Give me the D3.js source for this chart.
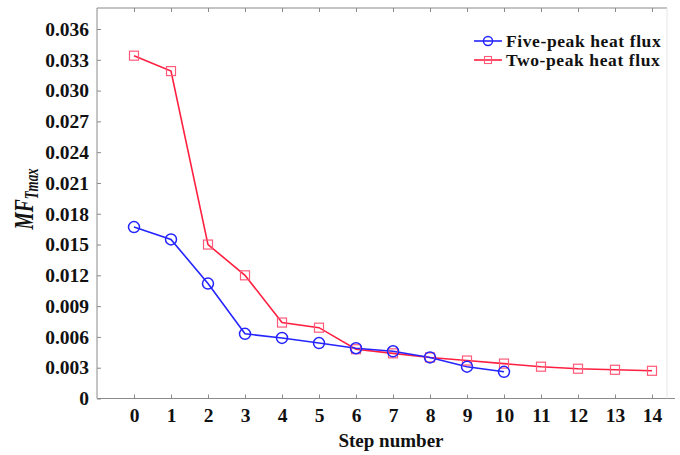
<!DOCTYPE html>
<html><head><meta charset="utf-8">
<script src="https://cdn.jsdelivr.net/npm/d3@7"></script>
<style>body{margin:0;background:#fff;} svg{display:block;}</style>
</head><body>
<svg id="c" width="680" height="455"></svg>
<script>
const stepsFive = [0,1,2,3,4,5,6,7,8,9,10];
const fivePeak = [0.0167,0.0155,0.0112,0.0063,0.0059,0.0054,0.0049,0.0046,0.0040,0.0031,0.0026];
const stepsTwo = [0,1,2,3,4,5,6,7,8,9,10,11,12,13,14];
const twoPeak = [0.0334,0.0319,0.0150,0.0120,0.0074,0.0069,0.0048,0.0044,0.0040,0.0037,0.0034,0.0031,0.0029,0.0028,0.0027];
const xTicks = [0,1,2,3,4,5,6,7,8,9,10,11,12,13,14];
const yTicks = [0,0.003,0.006,0.009,0.012,0.015,0.018,0.021,0.024,0.027,0.030,0.033,0.036];
const seriesNames = ["Five-peak heat flux","Two-peak heat flux"];

const svg = d3.select("#c");
const L=97, R=667, T=8, B=398.5;
const x = d3.scaleLinear().domain([-1, -1 + (R-L)/37]).range([L,R]);
const y = d3.scaleLinear().domain([0,0.036]).range([B,29]);
const font = "'Liberation Serif','Times New Roman',serif";
const axisColor = "#8a8a8a";

// frame
svg.append("line").attr("x1",L).attr("x2",R).attr("y1",T).attr("y2",T).attr("stroke",axisColor);
svg.append("line").attr("x1",L).attr("x2",R+8).attr("y1",B).attr("y2",B).attr("stroke",axisColor);
svg.append("line").attr("x1",L).attr("x2",L).attr("y1",T).attr("y2",B).attr("stroke",axisColor);
svg.append("line").attr("x1",R).attr("x2",R).attr("y1",T).attr("y2",B).attr("stroke","#e6e6e6");

// y axis
const yAxis = svg.append("g").attr("transform",`translate(${L},0)`)
  .call(d3.axisLeft(y).tickValues(yTicks).tickSizeInner(-4).tickSizeOuter(0)
    .tickFormat(d=> d===0 ? "0" : d3.format(".3f")(d)));
yAxis.select(".domain").remove();
yAxis.selectAll("line").attr("stroke",axisColor);
yAxis.selectAll("text").attr("x",-8).attr("font-family",font).attr("font-weight","bold")
  .attr("font-size","19.5px").attr("fill","#111");

// x axis bottom
const xAxis = svg.append("g").attr("transform",`translate(0,${B})`)
  .call(d3.axisBottom(x).tickValues(xTicks).tickSizeInner(-4).tickSizeOuter(0).tickFormat(d3.format("d")));
xAxis.select(".domain").remove();
xAxis.selectAll("line").attr("stroke",axisColor);
xAxis.selectAll("text").attr("y",10).attr("font-family",font).attr("font-weight","bold")
  .attr("font-size","19.5px").attr("fill","#111");

// x axis top ticks
const xTop = svg.append("g").attr("transform",`translate(0,${T})`)
  .call(d3.axisTop(x).tickValues(xTicks).tickSizeInner(-4).tickSizeOuter(0).tickFormat(""));
xTop.select(".domain").remove();
xTop.selectAll("line").attr("stroke",axisColor);

// axis titles
svg.append("text").attr("x",391).attr("y",447).attr("text-anchor","middle")
  .attr("font-family",font).attr("font-weight","bold").attr("font-size","19px").attr("fill","#111")
  .text("Step number");
const yl = svg.append("text").attr("transform","translate(33,199) rotate(-90) scale(0.72,1)").attr("text-anchor","middle")
  .attr("font-family",font).attr("font-weight","bold").attr("font-style","italic").attr("fill","#111");
yl.append("tspan").attr("font-size","27px").text("MF");
yl.append("tspan").attr("font-size","18px").attr("dy",5).text("Tmax");

// lines
const line = d3.line().x(d=>x(d[0])).y(d=>y(d[1]));
const blue = "#2424ff", red = "#ff1f40", redMark = "#ff5a7a";
const five = stepsFive.map((s,i)=>[s,fivePeak[i]]);
const two = stepsTwo.map((s,i)=>[s,twoPeak[i]]);

svg.append("path").datum(two).attr("d",line).attr("fill","none").attr("stroke",red).attr("stroke-width",1.6);
svg.append("path").datum(five).attr("d",line).attr("fill","none").attr("stroke",blue).attr("stroke-width",1.6);

svg.append("g").selectAll("rect").data(two).join("rect")
  .attr("x",d=>x(d[0])-4.5).attr("y",d=>y(d[1])-4.5).attr("width",9).attr("height",9)
  .attr("fill","none").attr("stroke",redMark).attr("stroke-width",1.2);
svg.append("g").selectAll("circle").data(five).join("circle")
  .attr("cx",d=>x(d[0])).attr("cy",d=>y(d[1])).attr("r",5.5)
  .attr("fill","none").attr("stroke",blue).attr("stroke-width",1.5);

// legend
const lg = svg.append("g");
const lgItems = [{name:seriesNames[0],c:blue,shape:"circle",yy:41},{name:seriesNames[1],c:red,shape:"square",yy:60}];
lgItems.forEach(it=>{
  lg.append("line").attr("x1",474).attr("x2",502).attr("y1",it.yy).attr("y2",it.yy).attr("stroke",it.c).attr("stroke-width",1.6);
  if(it.shape==="circle") lg.append("circle").attr("cx",488).attr("cy",it.yy).attr("r",4.5).attr("fill","none").attr("stroke",it.c).attr("stroke-width",1.5);
  else lg.append("rect").attr("x",484.5).attr("y",it.yy-3.5).attr("width",7).attr("height",7).attr("fill","none").attr("stroke",redMark).attr("stroke-width",1.1);
  lg.append("text").attr("x",506).attr("y",it.yy+6).attr("font-family",font).attr("font-weight","bold")
    .attr("font-size","17.5px").attr("letter-spacing","0.6px").attr("fill","#111").text(it.name);
});
</script>
</body></html>
